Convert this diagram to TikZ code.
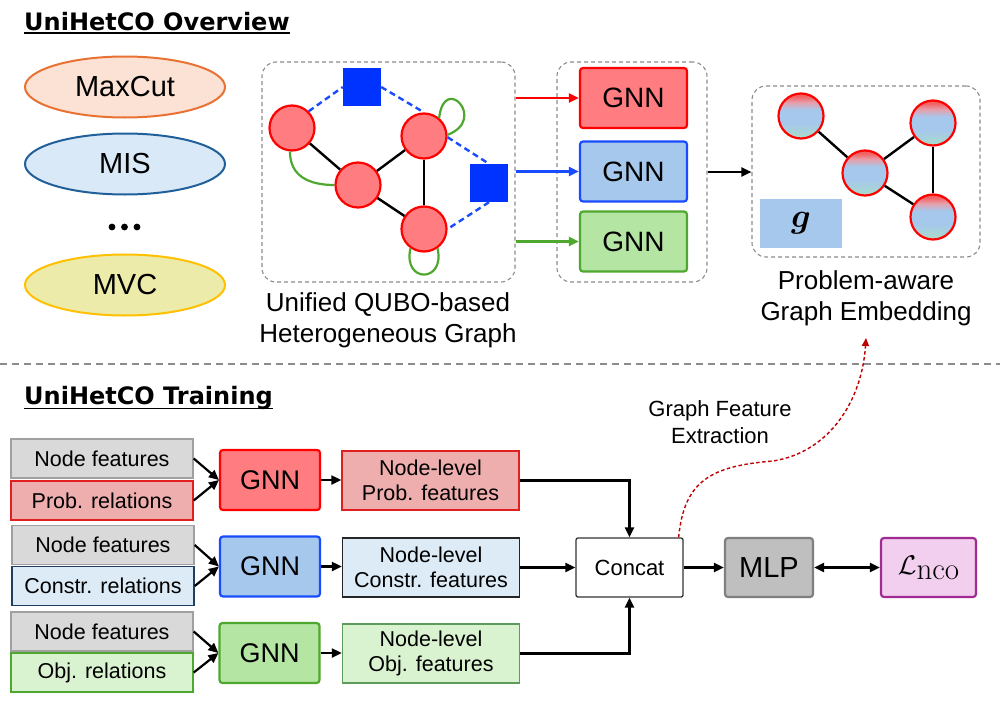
\RequirePackage{fix-cm}
\documentclass[tikz,border=0pt]{standalone}
\usepackage{amsmath,amssymb}
\usepackage[no-math]{fontspec}
\setmainfont{Liberation Sans}
\newfontfamily\titlefont{DejaVu Sans}
\usetikzlibrary{arrows.meta,calc,shapes.geometric}
\newcommand\fsz[2]{\fontsize{#1}{#2}\selectfont}
% colours
\definecolor{e1f}{HTML}{FBE2D5}\definecolor{e1d}{HTML}{E97132}
\definecolor{e2f}{HTML}{DAE9F8}\definecolor{e2d}{HTML}{215F9A}
\definecolor{e3f}{HTML}{EDEBAA}\definecolor{e3d}{HTML}{FFC000}
\definecolor{nodeR}{HTML}{FF7C80}\definecolor{nodeRd}{HTML}{FF0000}
\definecolor{sqB}{HTML}{0033FF}\definecolor{lnB}{HTML}{1A4CFF}
\definecolor{grn}{HTML}{4EA72E}
\definecolor{gRf}{HTML}{FF7C80}\definecolor{gRd}{HTML}{FF0000}
\definecolor{gBf}{HTML}{A6C8EC}\definecolor{gBd}{HTML}{1A4CFF}
\definecolor{gGf}{HTML}{B4E5A2}\definecolor{gGd}{HTML}{4EA72E}
\definecolor{boxg}{HTML}{A6C8EC}
\definecolor{grayf}{HTML}{D9D9D9}\definecolor{grayd}{HTML}{A0A0A0}
\definecolor{pRf}{HTML}{EFAEAE}\definecolor{pRd}{HTML}{E02020}
\definecolor{cBf}{HTML}{DDEBF7}\definecolor{cBd}{HTML}{1F3F5F}
\definecolor{oGf}{HTML}{D9F2D0}\definecolor{oGd}{HTML}{4EA72E}
\definecolor{oGd2}{HTML}{5B9B5B}
\definecolor{mlpf}{HTML}{BFBFBF}\definecolor{mlpd}{HTML}{7F7F7F}
\definecolor{lf}{HTML}{F2CEEF}\definecolor{ld}{HTML}{A02B93}
\definecolor{rdash}{HTML}{C00000}
\definecolor{dboxc}{HTML}{8C8C8C}
\definecolor{embR}{HTML}{F26060}\definecolor{embR2}{HTML}{E6A0AC}
\definecolor{embB}{HTML}{A6C8EC}\definecolor{embG}{HTML}{A9DCC7}
\pgfdeclareverticalshading{embshade}{100bp}{color(0bp)=(embG); color(25bp)=(embG); color(42bp)=(embB); color(57bp)=(embB); color(65bp)=(embR2); color(72bp)=(embR); color(100bp)=(embR)}
\begin{document}
\begin{tikzpicture}[x=1pt,y=-1pt,
  every node/.style={inner sep=0pt},
  arr/.style={-{Triangle[length=10pt,width=9pt]}, line width=2.2pt},
  arrtwo/.style={{Triangle[length=10pt,width=9pt]}-{Triangle[length=10pt,width=9pt]}, line width=2.2pt},
  ell/.style={ellipse, minimum width=200pt, minimum height=61pt, line width=2pt, font=\fsz{29}{34}},
  dbox/.style={draw=dboxc, dashed, dash pattern=on 4pt off 3pt, rounded corners=14pt, line width=1.1pt},
  gc/.style={circle, minimum size=45pt, fill=nodeR, draw=nodeRd, line width=2.2pt},
  ec/.style={circle, minimum size=45pt, shading=embshade, draw=nodeRd, line width=2.2pt},
  sq/.style={rectangle, minimum size=38pt, fill=sqB},
  blk/.style={line width=2.4pt},
  bdash/.style={draw=lnB, dashed, dash pattern=on 6pt off 4pt, line width=2.4pt},
  grnline/.style={draw=grn, line width=2.2pt},
  gnnt/.style={rounded corners=3pt, minimum width=107pt, minimum height=60pt, line width=2.2pt, font=\fsz{28}{33}},
  gnnb/.style={rounded corners=3pt, minimum width=100pt, minimum height=60pt, line width=2.2pt, font=\fsz{27}{32}},
  lbl/.style={align=center, font=\fsz{26}{31}},
  inb/.style={minimum width=182pt, minimum height=39pt, line width=1.4pt, font=\fsz{21.5}{25}},
  feat/.style={minimum width=177pt, minimum height=59pt, line width=1.4pt, align=center, font=\fsz{21.5}{25}},
  ttl/.style={anchor=base west, font=\titlefont\bfseries\fsz{24}{28}}
]
\useasboundingbox (0,0) rectangle (1000,704);

% ---------- Overview ----------
\node[ttl] (t1) at (24,30) {UniHetCO Overview};
\draw[line width=1.8pt] ([yshift=-3pt]t1.base west) -- ([yshift=-3pt]t1.base east);

\node[ell, fill=e1f, draw=e1d] (mc) at (125,87) {MaxCut};
\node[ell, fill=e2f, draw=e2d] (mis) at (125,164) {MIS};
\fill (112,227) circle[radius=3.4pt] (124.5,227) circle[radius=3.4pt] (137,227) circle[radius=3.4pt];
\node[ell, fill=e3f, draw=e3d] (mvc) at (125,285) {MVC};

% heterogeneous graph
\node[dbox, minimum width=253pt, minimum height=220pt] (gbox) at (388.5,172) {};
\node[gc] (n1) at (292,128) {};
\node[gc] (n2) at (358,185) {};
\node[gc] (n3) at (424,136) {};
\node[gc] (n4) at (424,229) {};
\node[sq] (s1) at (362,87) {};
\node[sq] (s2) at (489,183) {};
\draw[blk] (n1) -- (n2);
\draw[blk] (n2) -- (n3);
\draw[blk] (n3) -- (n4);
\draw[blk] (n2) -- (n4);
\draw[bdash] (n1.45) -- (s1.west);
\draw[bdash] (s1.east) -- (n3.north);
\draw[bdash] (n3.-3) -- (s2.north);
\draw[bdash] (s2.south) -- (n4.east);
\draw[grnline] (n1.265) .. controls +(0,25) and +(-25,0) .. (n2.west);
\draw[grnline] (n3.50) .. controls +(5,-45) and +(40,-15) .. (n3.3);
\draw[grnline] (n4.235) .. controls +(-8,35) and +(8,35) .. (n4.305);
\node[lbl] (glbl) at (388,320) {Unified QUBO-based\\Heterogeneous Graph};

% GNN stack
\node[dbox, minimum width=150pt, minimum height=220pt] (stk) at (632,172) {};
\node[gnnt, fill=gRf, draw=gRd] (gr) at (633.5,98) {GNN};
\node[gnnt, fill=gBf, draw=gBd] (gb) at (633.5,171.5) {GNN};
\node[gnnt, fill=gGf, draw=gGd] (gg) at (633.5,241.5) {GNN};
\draw[arr, draw=gRd] (gbox.east |- gr.west) -- (gr.west);
\draw[arr, draw=gBd] (gbox.east |- gb.west) -- (gb.west);
\draw[arr, draw=gGd] (gbox.east |- gg.west) -- (gg.west);

% embedding
\node[dbox, minimum width=228pt, minimum height=171pt] (ebox) at (866,171.5) {};
\draw[arr] (stk.east) -- (stk.east -| ebox.west);
\node[ec] (e1) at (801,116) {};
\node[ec] (e2) at (865,173) {};
\node[ec] (e3) at (933,123) {};
\node[ec] (e4) at (933,217) {};
\draw[blk] (e1) -- (e2);
\draw[blk] (e2) -- (e3);
\draw[blk] (e2) -- (e4);
\draw[blk] (e3) -- (e4);
\node[fill=boxg, minimum width=82pt, minimum height=49pt, font=\fsz{34}{40}] (gv) at (801,223.5) {$\boldsymbol{g}$};
\node[lbl] (elbl) at (866,298) {Problem-aware\\Graph Embedding};
\coordinate (ftip) at (866,338);

% separator
\draw[dboxc, line width=1.3pt, dash pattern=on 7pt off 5pt] (0,364) -- (1000,364);

% ---------- Training ----------
\node[ttl] (t2) at (24,404) {UniHetCO Training};
\draw[line width=1.8pt] ([yshift=-4.5pt]t2.base west) -- ([yshift=-4.5pt]t2.base east);

\node[inb, fill=grayf, draw=grayd] (nf1) at (102,458.5) {Node features};
\node[inb, fill=pRf, draw=pRd] (pr) at (102,500.5) {Prob. relations};
\node[inb, fill=grayf, draw=grayd] (nf2) at (103,545) {Node features};
\node[inb, fill=cBf, draw=cBd] (cr) at (103,586) {Constr. relations};
\node[inb, fill=grayf, draw=grayd] (nf3) at (102,631.5) {Node features};
\node[inb, fill=oGf, draw=oGd] (orl) at (102,672.5) {Obj. relations};

\node[gnnb, fill=gRf, draw=gRd] (gb1) at (270,480) {GNN};
\node[gnnb, fill=gBf, draw=gBd] (gb2) at (270,566.5) {GNN};
\node[gnnb, fill=gGf, draw=gGd] (gb3) at (269.5,653) {GNN};

\node[feat, fill=pRf, draw=pRd] (f1) at (430.5,480.5) {Node-level\\Prob. features};
\node[feat, fill=cBf, draw=black!85] (f2) at (431,567.5) {Node-level\\Constr. features};
\node[feat, fill=oGf, draw=oGd2] (f3) at (431,653.5) {Node-level\\Obj. features};

\node[draw=black!80, fill=white, rounded corners=2pt, line width=1.3pt, minimum width=107pt, minimum height=59pt, font=\fsz{22}{26}] (cc) at (629.5,567.5) {Concat};
\node[rounded corners=3pt, fill=mlpf, draw=mlpd, line width=2.2pt, minimum width=88pt, minimum height=59pt, font=\fsz{29}{34}] (mlp) at (769,567.5) {MLP};
\node[rounded corners=3pt, fill=lf, draw=ld, line width=2.2pt, minimum width=95pt, minimum height=59pt] (lnco) at (928.5,567.5) {{\fsz{27}{32}$\mathcal{L}$}{\fsz{31}{36}\raisebox{-5pt}{$\mathrm{nco}$}}};

\draw[arr] (nf1.east) -- (gb1.west);
\draw[arr] (pr.east) -- (gb1.west);
\draw[arr] (nf2.east) -- (gb2.west);
\draw[arr] (cr.east) -- (gb2.west);
\draw[arr] (nf3.east) -- (gb3.west);
\draw[arr] (orl.east) -- (gb3.west);
\draw[arr] (gb1.east) -- (gb1.east -| f1.west);
\draw[arr] (gb2.east) -- (gb2.east -| f2.west);
\draw[arr] (gb3.east) -- (gb3.east -| f3.west);
\draw[arr] (f1.east) -| (cc.north);
\draw[arr] (f2.east) -- (cc.west);
\draw[arr] (f3.east) -| (cc.south);
\draw[arr] (cc.east) -- (mlp.west);
\draw[arrtwo] (mlp.east) -- (lnco.west);

\node[align=center, font=\fsz{22}{27}] (gfe) at (720,422) {Graph Feature\\Extraction};
\draw[draw=rdash, line width=1.4pt, dashed, dash pattern=on 3.5pt off 2.5pt, -{Triangle[length=8pt,width=7pt]}]
  ([xshift=-5pt]cc.north east) .. controls (684,480) and (712,466) .. (773,461)
  .. controls (830,452) and (862,400) .. (ftip);
\end{tikzpicture}
\end{document}
